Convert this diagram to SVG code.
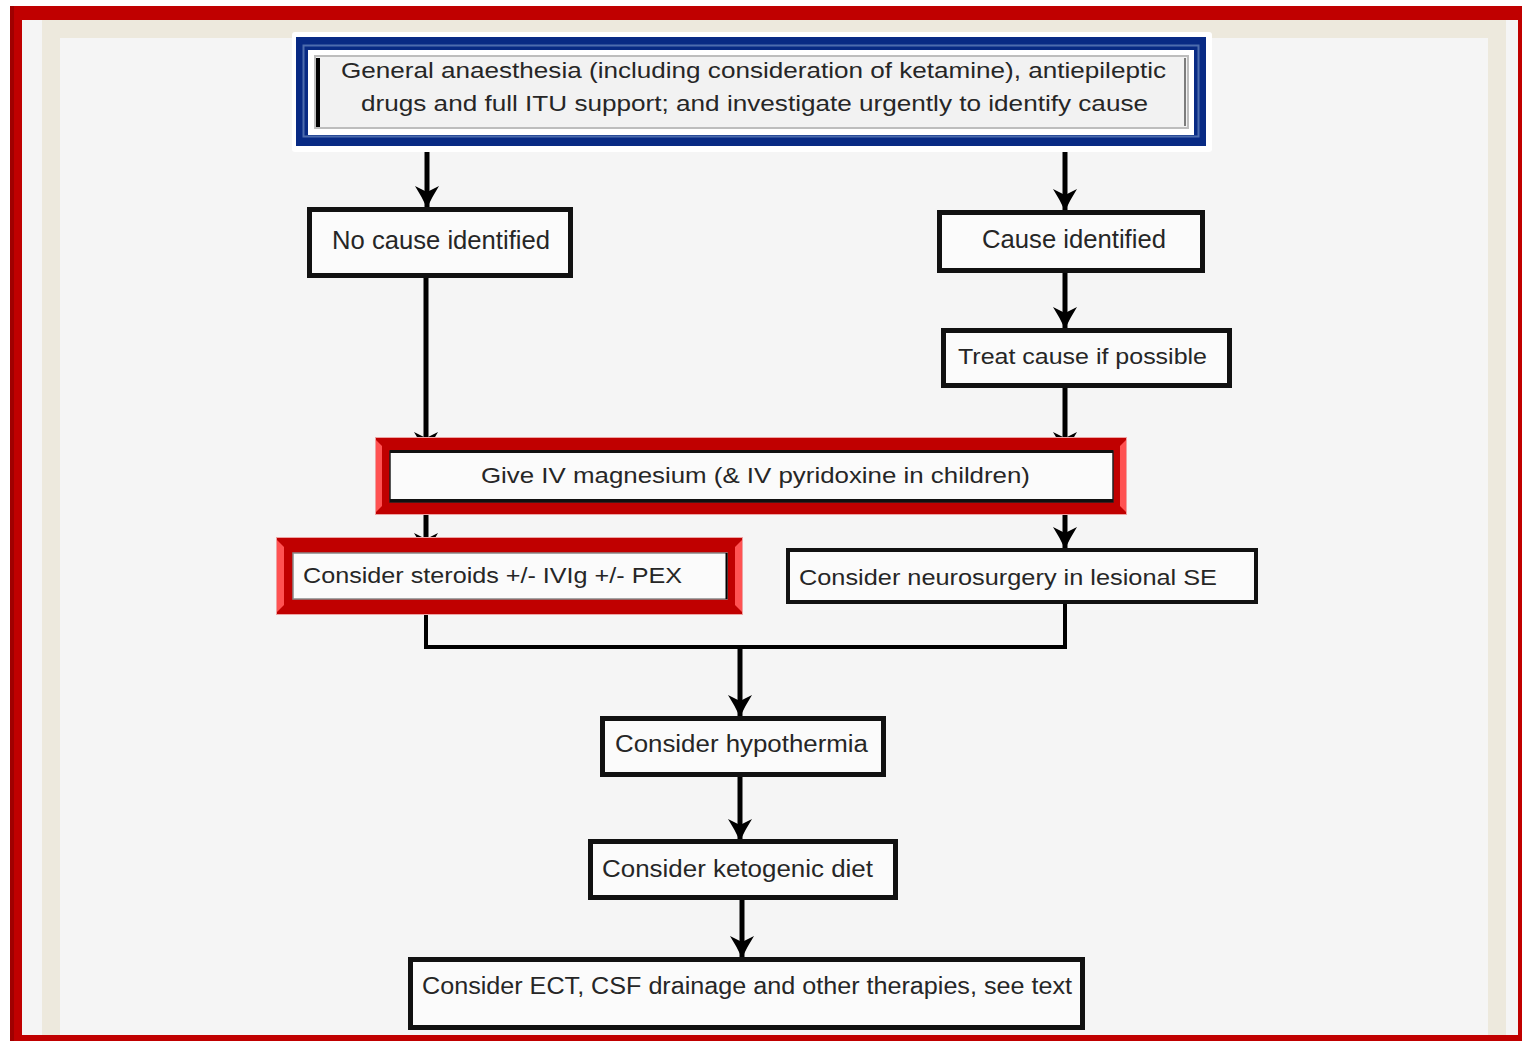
<svg xmlns="http://www.w3.org/2000/svg" width="1522" height="1042" viewBox="0 0 1522 1042">
<defs>
<style>
.t{font-family:"Liberation Sans",Arial,sans-serif;fill:#262626;}
.box{fill:#fbfbfb;stroke:#111;stroke-width:5;}
.ln{fill:none;stroke:#000;stroke-width:5;}
.red{fill:#c00000;}
.bev{fill:#ff5252;}
.edge{fill:#eea3a3;}
</style>
<marker id="ah" markerUnits="userSpaceOnUse" markerWidth="24" markerHeight="24" refX="22" refY="12" orient="auto">
<path d="M22,12 Q11,7 0,0 L6,12 L0,24 Q11,17 22,12 Z" fill="#000"/>
</marker>
</defs>
<g id="frame">
<rect x="0" y="0" width="1522" height="1042" fill="#ffffff"/>
<rect x="10" y="6" width="1520" height="1035" fill="#c00000"/>
<rect x="10" y="6" width="4" height="1035" fill="#a00000"/>
<rect x="22" y="20" width="1496" height="1015" fill="#f5f5f5"/>
<rect x="42" y="20" width="1464" height="18" fill="#ede9dd"/>
<rect x="42" y="20" width="18" height="1015" fill="#ede9dd"/>
<rect x="1488" y="20" width="18" height="1015" fill="#ede9dd"/>
</g>
<g id="connectors">
<line class="ln" x1="427" y1="152" x2="427" y2="208" marker-end="url(#ah)"/>
<line class="ln" x1="1065" y1="152" x2="1065" y2="211" marker-end="url(#ah)"/>
<line class="ln" x1="1065" y1="273" x2="1065" y2="329" marker-end="url(#ah)"/>
<line class="ln" x1="426" y1="278" x2="426" y2="454" marker-end="url(#ah)"/>
<line class="ln" x1="1065" y1="388" x2="1065" y2="454" marker-end="url(#ah)"/>
<line class="ln" x1="426" y1="515" x2="426" y2="555" marker-end="url(#ah)"/>
<line class="ln" x1="1065" y1="515" x2="1065" y2="549" marker-end="url(#ah)"/>
<path class="ln" style="stroke-width:4" d="M426,615 V647 H1065 V604"/>
<line class="ln" x1="740" y1="647" x2="740" y2="717" marker-end="url(#ah)"/>
<line class="ln" x1="740" y1="777" x2="740" y2="841" marker-end="url(#ah)"/>
<line class="ln" x1="742" y1="900" x2="742" y2="958" marker-end="url(#ah)"/>
</g>
<g id="node-start">
<rect x="292" y="32" width="920" height="120" rx="3" fill="#ffffff"/>
<rect x="296" y="37" width="910" height="109" fill="#082a84"/>
<rect x="303.5" y="45.5" width="895" height="91" fill="none" stroke="#4d6cad" stroke-width="2"/>
<rect x="308" y="50" width="886" height="85" fill="#ffffff"/>
<rect x="315" y="56" width="873" height="72" fill="#f2f2f2" stroke="#bdbdbd" stroke-width="2"/>
<rect x="316" y="58" width="4" height="69" fill="#000"/>
<line x1="1185" y1="58" x2="1185" y2="126" stroke="#555" stroke-width="1.5"/>
<text class="t" x="341" y="78" font-size="22" textLength="825" lengthAdjust="spacingAndGlyphs">General anaesthesia (including consideration of ketamine), antiepileptic</text>
<text class="t" x="361" y="111" font-size="22" textLength="787" lengthAdjust="spacingAndGlyphs">drugs and full ITU support; and investigate urgently to identify cause</text>
</g>
<g id="node-nocause">
<rect class="box" x="309.5" y="209.5" width="261" height="66"/>
<text class="t" x="332" y="249" font-size="25" textLength="218" lengthAdjust="spacingAndGlyphs">No cause identified</text>
</g>
<g id="node-cause">
<rect class="box" x="939.5" y="212.5" width="263" height="58"/>
<text class="t" x="982" y="248" font-size="25" textLength="184" lengthAdjust="spacingAndGlyphs">Cause identified</text>
</g>
<g id="node-treat">
<rect class="box" x="943.5" y="330.5" width="286" height="55"/>
<text class="t" x="958" y="364" font-size="22" textLength="249" lengthAdjust="spacingAndGlyphs">Treat cause if possible</text>
</g>
<g id="node-magnesium">
<rect class="edge" x="375" y="437" width="752" height="78"/>
<rect class="red" x="376" y="438" width="750" height="76"/>
<polygon class="bev" points="376,440 382,446 382,506 376,512"/>
<polygon class="bev" points="1126,440 1120,446 1120,506 1126,512"/>
<rect x="390" y="451" width="723" height="51" fill="#fbfbfb" stroke="#222" stroke-width="1.5"/>
<line x1="390" y1="451.5" x2="1113" y2="451.5" stroke="#111" stroke-width="3"/>
<line x1="390" y1="500.5" x2="1113" y2="500.5" stroke="#111" stroke-width="3"/>
<text class="t" x="481" y="483" font-size="22" textLength="549" lengthAdjust="spacingAndGlyphs">Give IV magnesium (&amp; IV pyridoxine in children)</text>
</g>
<g id="node-steroids">
<rect class="edge" x="276" y="537" width="467" height="78"/>
<rect class="red" x="277" y="538" width="465" height="76"/>
<polygon class="bev" points="277,540 284,547 284,605 277,612"/>
<polygon class="bev" points="742,540 735,547 735,605 742,612"/>
<rect x="293" y="553" width="434" height="46" fill="#fbfbfb" stroke="#888" stroke-width="1.5"/>
<line x1="726.5" y1="553" x2="726.5" y2="599" stroke="#000" stroke-width="2"/>
<text class="t" x="303" y="583" font-size="22" textLength="379" lengthAdjust="spacingAndGlyphs">Consider steroids +/- IVIg +/- PEX</text>
</g>
<g id="node-neurosurgery">
<rect class="box" style="stroke-width:4" x="788" y="550" width="468" height="52"/>
<text class="t" x="799" y="585" font-size="22" textLength="418" lengthAdjust="spacingAndGlyphs">Consider neurosurgery in lesional SE</text>
</g>
<g id="node-hypothermia">
<rect class="box" x="602.5" y="718.5" width="281" height="56"/>
<text class="t" x="615" y="752" font-size="23" textLength="253" lengthAdjust="spacingAndGlyphs">Consider hypothermia</text>
</g>
<g id="node-keto">
<rect class="box" x="590.5" y="841.5" width="305" height="56"/>
<text class="t" x="602" y="877" font-size="23" textLength="271" lengthAdjust="spacingAndGlyphs">Consider ketogenic diet</text>
</g>
<g id="node-ect">
<rect class="box" x="410.5" y="959.5" width="672" height="68"/>
<text class="t" x="422" y="994" font-size="23" textLength="650" lengthAdjust="spacingAndGlyphs">Consider ECT, CSF drainage and other therapies, see text</text>
</g>
</svg>
